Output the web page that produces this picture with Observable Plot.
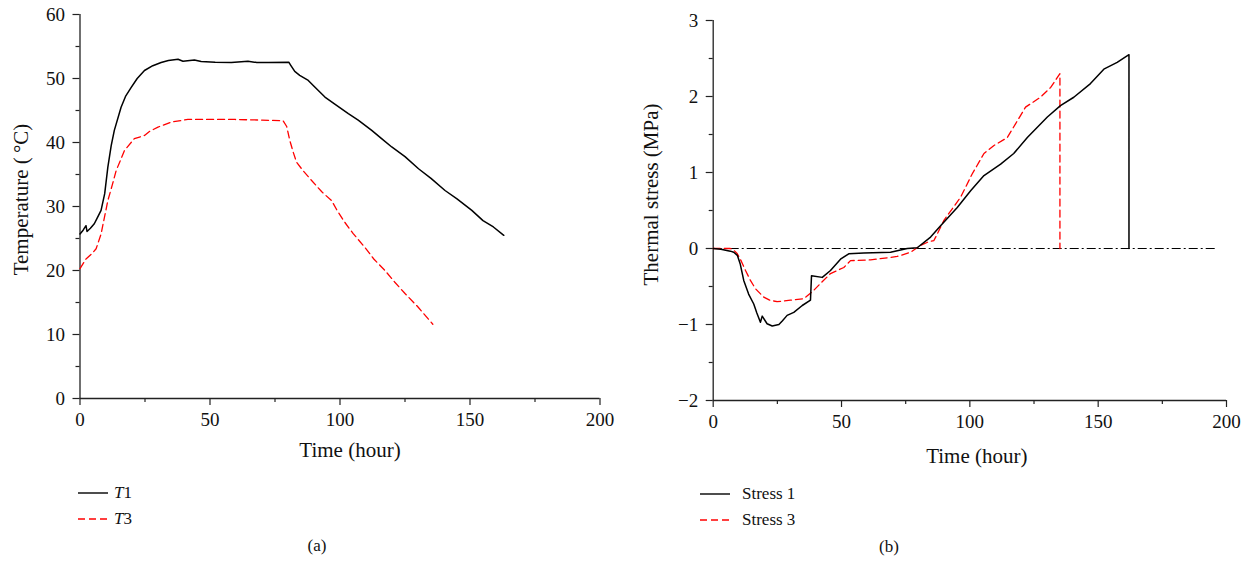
<!DOCTYPE html>
<html>
<head>
<meta charset="utf-8">
<script src="https://cdn.jsdelivr.net/npm/d3@7"></script>
<script src="https://cdn.jsdelivr.net/npm/@observablehq/plot@0.6"></script>
<style>
  html, body { margin: 0; padding: 0; background: #fff; }
  #wrap { position: relative; width: 1254px; height: 577px; font-family: "Liberation Serif", "DejaVu Serif", serif; color: #111; }
  .panel { position: absolute; top: 0; }
  .legend { position: absolute; font-size: 17px; line-height: 26px; }
  .legend .row { display: flex; align-items: center; height: 26px; }
  .legend svg { margin-right: 6px; }
  .cap { position: absolute; font-size: 17px; transform: translateX(-50%); }
</style>
</head>
<body>
<div id="wrap">
  <div id="pa" class="panel" style="left:0px"></div>
  <div id="pb" class="panel" style="left:630px"></div>
  <div class="legend" style="left:78px; top:480px">
    <div class="row"><svg width="30" height="4"><line x1="0" x2="30" y1="2" y2="2" stroke="#000" stroke-width="1.4"/></svg><span><i>T</i>1</span></div>
    <div class="row"><svg width="30" height="4"><line x1="0" x2="30" y1="2" y2="2" stroke="#f00" stroke-width="1.3" stroke-dasharray="7,4"/></svg><span><i>T</i>3</span></div>
  </div>
  <div class="legend" style="left:700px; top:481px">
    <div class="row"><svg width="30" height="4"><line x1="0" x2="30" y1="2" y2="2" stroke="#000" stroke-width="1.4"/></svg><span style="margin-left:6px">Stress 1</span></div>
    <div class="row"><svg width="30" height="4"><line x1="0" x2="30" y1="2" y2="2" stroke="#f00" stroke-width="1.3" stroke-dasharray="7,4"/></svg><span style="margin-left:6px">Stress 3</span></div>
  </div>
  <div class="cap" style="left:317px; top:536px">(a)</div>
  <div class="cap" style="left:889px; top:537px">(b)</div>
</div>
<script>
// ---- Data ----
const t1Time = [0,1.2,2.3,2.7,4,5.5,6.5,8.1,9.5,10.7,12,13.2,15.8,17.5,19.7,22,24.8,28,31.2,34,37.7,39.6,44,46.6,52,58.2,64.6,68,72.4,80.3,81,82.6,84.5,87.8,90,94.2,98,103.2,107,112.2,116,119.9,125,130.2,135,140.4,145,150.7,155,159,163];
const t1Temp = [25.7,26.3,27.0,26.1,26.6,27.3,28.1,29.4,32,36.1,39.5,41.9,45.5,47.2,48.6,50,51.25,52.0,52.5,52.8,53.0,52.7,52.9,52.65,52.55,52.5,52.7,52.5,52.5,52.55,52.1,51.1,50.5,49.7,48.8,47.1,46.0,44.5,43.5,41.9,40.6,39.3,37.8,35.9,34.4,32.5,31.2,29.4,27.8,26.8,25.5];

const t3Time = [0,2.3,4.5,6.2,8.1,10.7,12.5,13.9,17.1,20.9,24.8,27,30,35.1,41.5,59.5,70,78.1,79.5,80.7,82,83.3,86,89,93,96.8,99,101.9,105,109.6,113,117.3,121,125,130,135.7];
const t3Temp = [20.3,21.8,22.6,23.4,25.7,30.9,33.5,35.6,38.75,40.6,41.1,41.8,42.4,43.2,43.6,43.6,43.5,43.4,42.5,40.3,38.5,36.9,35.5,34.1,32.3,30.9,29.3,27.5,25.8,23.6,21.8,20.0,18.2,16.4,14.3,11.6];

const s1Time = [0,3,6.7,8,9.4,10.5,11.9,13.8,15.8,17,18.4,19.1,21,23,25.6,27,28.8,31.4,34.7,37.9,38.3,42.5,45.7,49.6,52.8,58.7,69.1,75.6,79.5,84.7,88.6,95.1,100.3,105.5,112,117.1,122.4,130.2,135.3,140.5,147,152.2,157.4,162,162];
const s1Stress = [0,-0.01,-0.035,-0.05,-0.09,-0.2,-0.42,-0.6,-0.73,-0.85,-0.97,-0.89,-0.99,-1.02,-1.0,-0.95,-0.88,-0.84,-0.75,-0.68,-0.36,-0.38,-0.29,-0.14,-0.07,-0.06,-0.05,0,0.01,0.15,0.30,0.54,0.76,0.96,1.11,1.25,1.46,1.73,1.88,1.99,2.17,2.36,2.45,2.55,0];

const s3Time = [0,6.7,8,9.4,11,12.6,14.5,16.5,19.7,22,24.9,30.1,35.3,38.6,41.8,45.7,50.9,53.5,61.3,66,71.7,76.9,80.8,84,86,87.3,89.9,96.4,100.9,105.5,109.4,114.6,117.8,121.7,127.5,131.5,135.1,135.1];
const s3Stress = [0,0,-0.02,-0.07,-0.17,-0.29,-0.42,-0.53,-0.64,-0.68,-0.70,-0.68,-0.66,-0.57,-0.46,-0.33,-0.25,-0.16,-0.15,-0.13,-0.105,-0.05,0.04,0.09,0.105,0.19,0.37,0.675,0.98,1.25,1.355,1.46,1.64,1.86,1.99,2.12,2.30,0];

const xMajor = [0,50,100,150,200];
const xMinor = [25,75,125,175];
const tempMajor = [0,10,20,30,40,50,60];
const tempMinor = [5,15,25,35,45,55];
const stressMajor = [-2,-1,0,1,2,3];
const stressMinor = [-1.5,-0.5,0.5,1.5,2.5];
const zeroLine = [{x1: 0, x2: 196, y: 0}];

const zip = (xs, ys) => xs.map((x, i) => ({x, y: ys[i]}));

const font = "'Liberation Serif', 'DejaVu Serif', serif";
const axisColor = "#222";

function axes(yMajor, yMinor, yFmt) {
  return [
    Plot.axisX({ticks: xMajor, tickSize: 7, tickPadding: 7, label: null, fontSize: 19, stroke: axisColor, strokeWidth: 1.2}),
    Plot.axisX({ticks: xMinor, tickSize: 4, tickFormat: () => "", label: null, stroke: axisColor, strokeWidth: 1.2}),
    Plot.axisY({ticks: yMajor, tickSize: 7, tickPadding: 8, label: null, fontSize: 19, stroke: axisColor, strokeWidth: 1.2, tickFormat: yFmt}),
    Plot.axisY({ticks: yMinor, tickSize: 4, tickFormat: () => "", label: null, stroke: axisColor, strokeWidth: 1.2})
  ];
}

// ---- Panel (a) ----
const plotA = Plot.plot({
  width: 627, height: 470,
  marginLeft: 79.5, marginRight: 27.5, marginTop: 14, marginBottom: 72,
  style: {fontFamily: font, fontSize: "19px", color: "#111", background: "white"},
  x: {domain: [0, 200]},
  y: {domain: [0, 60]},
  marks: [
    ...axes(tempMajor, tempMinor, d3.format("d")),
    Plot.ruleX([0], {stroke: axisColor, strokeWidth: 1.3}),
    Plot.ruleY([0], {stroke: axisColor, strokeWidth: 1.3}),
    Plot.line(zip(t3Time, t3Temp), {x: "x", y: "y", stroke: "#f00", strokeWidth: 1.3, strokeDasharray: "7,4"}),
    Plot.line(zip(t1Time, t1Temp), {x: "x", y: "y", stroke: "#000", strokeWidth: 1.5}),
    Plot.text(["Time (hour)"], {frameAnchor: "bottom", text: d => d, dx: 10, dy: 52, lineAnchor: "middle", textAnchor: "middle", fontSize: 21}),
    Plot.text(["Temperature (\u2009°C)"], {frameAnchor: "left", text: d => d, rotate: -90, dx: -59, dy: -7, lineAnchor: "middle", textAnchor: "middle", fontSize: 21})
  ]
});
document.getElementById("pa").appendChild(plotA);

// ---- Panel (b) ----
const plotB = Plot.plot({
  width: 624, height: 470,
  marginLeft: 82.7, marginRight: 28, marginTop: 20, marginBottom: 70,
  style: {fontFamily: font, fontSize: "19px", color: "#111", background: "white"},
  x: {domain: [0, 200]},
  y: {domain: [-2, 3]},
  marks: [
    ...axes(stressMajor, stressMinor, d => d < 0 ? "\u2212" + Math.abs(d) : String(d)),
    Plot.ruleX([0], {stroke: axisColor, strokeWidth: 1.3}),
    Plot.ruleY([-2], {stroke: axisColor, strokeWidth: 1.3}),
    Plot.ruleY(zeroLine, {x1: "x1", x2: "x2", y: "y", stroke: "#000", strokeWidth: 1.1, strokeDasharray: "9,3,2,3"}),
    Plot.line(zip(s3Time, s3Stress), {x: "x", y: "y", stroke: "#f00", strokeWidth: 1.3, strokeDasharray: "7,4"}),
    Plot.line(zip(s1Time, s1Stress), {x: "x", y: "y", stroke: "#000", strokeWidth: 1.5}),
    Plot.text(["Time (hour)"], {frameAnchor: "bottom", text: d => d, dx: 7, dy: 56, lineAnchor: "middle", textAnchor: "middle", fontSize: 21}),
    Plot.text(["Thermal stress (MPa)"], {frameAnchor: "left", text: d => d, rotate: -90, dx: -62, dy: -16, lineAnchor: "middle", textAnchor: "middle", fontSize: 21})
  ]
});
document.getElementById("pb").appendChild(plotB);
</script>
</body>
</html>
